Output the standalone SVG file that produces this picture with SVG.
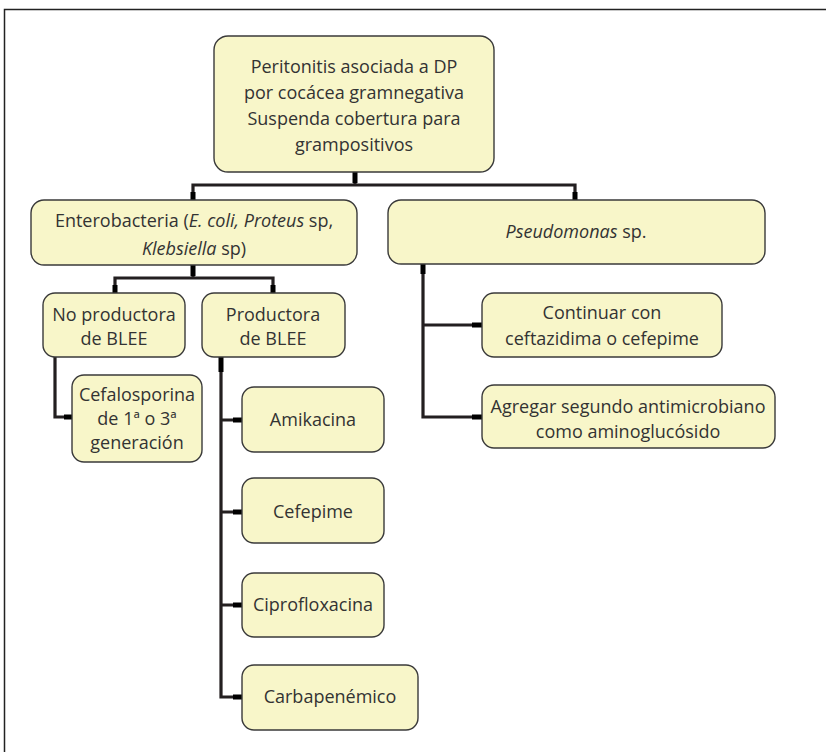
<svg xmlns="http://www.w3.org/2000/svg" width="826" height="752" viewBox="0 0 826 752">
<style>
.box{fill:#f8f6c9;stroke:#3a3a3a;stroke-width:1.4}
text{font-family:"Open Sans","Noto Sans","Liberation Sans",sans-serif;font-size:18px;fill:#333;text-anchor:middle}
.i{font-style:italic}
.ln{fill:none;stroke:#231f20;stroke-width:3.2;stroke-linejoin:miter}
.st{fill:none;stroke:#000;stroke-width:5}
</style>
<rect x="0" y="0" width="826" height="752" fill="#fff"/>
<rect x="4.5" y="9.5" width="830" height="750" fill="none" stroke="#222" stroke-width="1.5"/>
<g id="connectors">
<path class="ln" d="M355 172V185M193 200V185H575V200"/>
<path class="st" d="M355 172V183M193 192V200M575 192V200"/>
<path class="ln" d="M193 265V278M115 293V278H273V293"/>
<path class="st" d="M193 265V276M115 285V293M273 285V293"/>
<path class="ln" d="M55 357V417H72"/>
<path class="st" d="M64 417H72"/>
<path class="ln" d="M221 357V697H242M221 420H242M221 512H242M221 605H242"/>
<path class="st" d="M221 357V372M233 420H242M233 512H242M233 605H242M233 697H242"/>
<path class="ln" d="M423 264V417H482M423 325H482"/>
<path class="st" d="M423 264V274M472 325H482M472 417H482"/>
</g>
<g id="n-top">
<rect class="box" x="214" y="36" width="280" height="136" rx="14"/>
<text x="354" y="73">Peritonitis asociada a DP</text>
<text x="354" y="99">por cocácea gramnegativa</text>
<text x="354" y="125">Suspenda cobertura para</text>
<text x="354" y="151">grampositivos</text>
</g>
<g id="n-entero">
<rect class="box" x="31" y="200" width="326" height="65" rx="13"/>
<text x="194" y="227">Enterobacteria (<tspan class="i">E. coli, Proteus</tspan> sp,</text>
<text x="194" y="255"><tspan class="i">Klebsiella</tspan> sp)</text>
</g>
<g id="n-pseudo">
<rect class="box" x="388" y="200" width="377" height="64" rx="13"/>
<text x="576" y="238"><tspan class="i">Pseudomonas</tspan> sp.</text>
</g>
<g id="n-noprod">
<rect class="box" x="43" y="293" width="142" height="64" rx="12"/>
<text x="114" y="321">No productora</text>
<text x="114" y="345">de BLEE</text>
</g>
<g id="n-prod">
<rect class="box" x="202" y="293" width="143" height="64" rx="12"/>
<text x="273" y="321">Productora</text>
<text x="273" y="345">de BLEE</text>
</g>
<g id="n-cefalo">
<rect class="box" x="72" y="375" width="130" height="87" rx="12"/>
<text x="137" y="401">Cefalosporina</text>
<text x="137" y="425">de 1ª o 3ª</text>
<text x="137" y="449">generación</text>
</g>
<g id="n-amik">
<rect class="box" x="242" y="387" width="142" height="65" rx="12"/>
<text x="313" y="426">Amikacina</text>
</g>
<g id="n-cefep">
<rect class="box" x="242" y="478" width="142" height="65" rx="12"/>
<text x="313" y="518">Cefepime</text>
</g>
<g id="n-cipro">
<rect class="box" x="242" y="573" width="142" height="64" rx="12"/>
<text x="313" y="611">Ciprofloxacina</text>
</g>
<g id="n-carba">
<rect class="box" x="242" y="665" width="176" height="65" rx="12"/>
<text x="330" y="703">Carbapenémico</text>
</g>
<g id="n-cont">
<rect class="box" x="482" y="293" width="240" height="64" rx="12"/>
<text x="602" y="319">Continuar con</text>
<text x="602" y="345">ceftazidima o cefepime</text>
</g>
<g id="n-agreg">
<rect class="box" x="482" y="385" width="293" height="63" rx="12"/>
<text x="628" y="413">Agregar segundo antimicrobiano</text>
<text x="628" y="438">como aminoglucósido</text>
</g>
</svg>
